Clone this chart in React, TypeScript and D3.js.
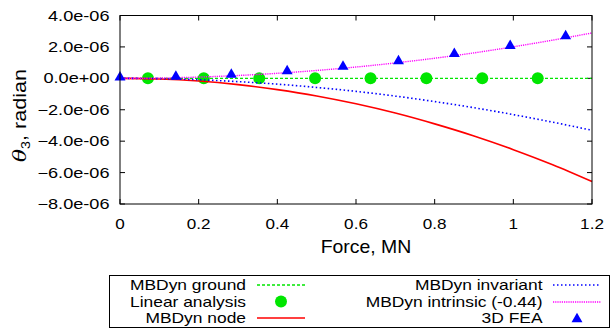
import React from "react";
import { scaleLinear, line, curveMonotoneX, format, symbol, symbolTriangle } from "d3";

// theta values are in units of 1e-6 rad
const forceLine = [0, 0.1, 0.2, 0.3, 0.4, 0.5, 0.6, 0.7, 0.8, 0.9, 1.0, 1.1, 1.2];
const groundTheta = [0, 0, 0, 0, 0, 0, 0, 0, 0, 0, 0, 0, 0];
const nodeTheta = [0, -0.04, -0.17, -0.4, -0.72, -1.12, -1.62, -2.21, -2.9, -3.67, -4.54, -5.5, -6.57];
const invariantTheta = [0, -0.02, -0.09, -0.21, -0.37, -0.58, -0.83, -1.13, -1.48, -1.87, -2.31, -2.79, -3.31];
const intrinsicTheta = [0, 0.02, 0.08, 0.18, 0.32, 0.5, 0.72, 0.98, 1.28, 1.62, 2.01, 2.43, 2.89];

const linearForce = [0.071, 0.213, 0.354, 0.496, 0.637, 0.779, 0.921, 1.062];
const linearTheta = [0, 0, 0, 0, 0, 0, 0, 0];

const feaForce = [0, 0.142, 0.283, 0.425, 0.567, 0.708, 0.85, 0.992, 1.133];
const feaTheta = [0, 0.05, 0.18, 0.4, 0.68, 1.04, 1.49, 2.01, 2.62];

const xTicks = [0, 0.2, 0.4, 0.6, 0.8, 1, 1.2];
const yTicks = [-8, -6, -4, -2, 0, 2, 4];

const W = 612;
const H = 332;
const left = 120;
const right = 592;
const top = 15.5;
const bottom = 204;
const FONT = "'Liberation Sans', Arial, Helvetica, sans-serif";

const GREEN = "#00e600";
const RED = "#ff0000";
const BLUE = "#0000ff";
const MAGENTA = "#ff00ff";

const x = scaleLinear().domain([0, 1.2]).range([left, right]);
const y = scaleLinear().domain([-8, 4]).range([bottom, top]);

const fmtSci = (v: number) =>
  format(".1e")(v * 1e-6).replace(/e([+-])(\d)$/, "e$10$2");

const Txt = ({ x, y, anchor = "start", size = 14.5, sx = 1.22, children }: any) => (
  <text
    transform={`translate(${x},${y}) scale(${sx},1)`}
    textAnchor={anchor}
    fontFamily={FONT}
    fontSize={size}
    fill="#000"
  >
    {children}
  </text>
);

const zip = (xs: number[], ys: number[]) => xs.map((f, i) => [f, ys[i]] as [number, number]);

const path = line<[number, number]>()
  .x((d) => x(d[0]))
  .y((d) => y(d[1]))
  .curve(curveMonotoneX);

const tri = symbol().type(symbolTriangle).size(52)();

export default function App() {
  const legendLeft = [
    { label: "MBDyn ground", kind: "line", color: GREEN, dash: "3,2", w: 1.4 },
    { label: "Linear analysis", kind: "circle", color: GREEN },
    { label: "MBDyn node", kind: "line", color: RED, dash: null, w: 1.6 },
  ];
  const legendRight = [
    { label: "MBDyn invariant", kind: "line", color: BLUE, dash: "1.5,2.5", w: 1.6 },
    { label: "MBDyn intrinsic (-0.44)", kind: "line", color: MAGENTA, dash: "1.2,1", w: 1.4 },
    { label: "3D FEA", kind: "tri", color: BLUE },
  ];
  const rowY = [285, 301.5, 318];

  const sample = (item: any, x0: number, x1: number, cy: number) => {
    if (item.kind === "line")
      return (
        <line x1={x0} x2={x1} y1={Math.round(cy)} y2={Math.round(cy)} stroke={item.color}
          strokeWidth={item.w} strokeDasharray={item.dash || undefined} />
      );
    if (item.kind === "circle")
      return <circle cx={(x0 + x1) / 2} cy={cy} r={6} fill={item.color} />;
    return <path d={tri} transform={`translate(${(x0 + x1) / 2},${cy + 1})`} fill={item.color} />;
  };

  return (
    <svg width={W} height={H} style={{ position: "absolute", left: 0, top: 0, background: "#fff" }}>
      <rect x={0} y={0} width={W} height={H} fill="#fff" />

      {/* ticks */}
      {xTicks.map((t) => (
        <g key={"xt" + t}>
          <line x1={x(t)} x2={x(t)} y1={bottom} y2={bottom - 5} stroke="#000" />
          <line x1={x(t)} x2={x(t)} y1={top} y2={top + 5} stroke="#000" />
          <Txt x={x(t)} y={228.5} anchor="middle" sx={1.14} size={15}>{String(t)}</Txt>
        </g>
      ))}
      {yTicks.map((t) => (
        <g key={"yt" + t}>
          <line x1={left} x2={left + 5} y1={y(t)} y2={y(t)} stroke="#000" />
          <line x1={right} x2={right - 5} y1={y(t)} y2={y(t)} stroke="#000" />
          <Txt x={109.5} y={y(t) + 5} anchor="end" size={14.5} sx={1.25}>{fmtSci(t)}</Txt>
        </g>
      ))}

      {/* series */}
      <path d={path(zip(forceLine, groundTheta)) || ""} fill="none" stroke={GREEN} strokeWidth={1.4} strokeDasharray="3,2" />
      {linearForce.map((f, i) => (
        <circle key={"lin" + i} cx={x(f)} cy={y(linearTheta[i])} r={6} fill={GREEN} />
      ))}
      <path d={path(zip(forceLine, nodeTheta)) || ""} fill="none" stroke={RED} strokeWidth={1.6} />
      <path d={path(zip(forceLine, invariantTheta)) || ""} fill="none" stroke={BLUE} strokeWidth={1.6} strokeDasharray="1.5,2.5" />
      <path d={path(zip(forceLine, intrinsicTheta)) || ""} fill="none" stroke={MAGENTA} strokeWidth={1.4} strokeDasharray="1.2,1" />
      {feaForce.map((f, i) => (
        <path key={"fea" + i} d={tri} transform={`translate(${x(f)},${y(feaTheta[i]) - 1})`} fill={BLUE} />
      ))}

      {/* frame */}
      <rect x={left} y={top} width={right - left} height={bottom - top} fill="none" stroke="#000" strokeWidth={1} />

      {/* axis titles */}
      <Txt x={366} y={253.3} anchor="middle" size={18} sx={1.08}>Force,  MN</Txt>
      <text
        transform={`translate(25.5,115.5) rotate(-90) scale(1.2,1)`}
        textAnchor="middle"
        fontFamily={FONT}
        fontSize={18}
      >
        <tspan fontStyle="italic" fontFamily="'DejaVu Serif', serif">θ</tspan>
        <tspan fontSize={12} dy={4}>3</tspan>
        <tspan dy={-4}>, radian</tspan>
      </text>

      {/* legend */}
      <rect x={109.5} y={275.5} width={500} height={52} fill="none" stroke="#000" strokeWidth={1} />
      {legendLeft.map((it, i) => (
        <g key={"ll" + i}>
          <Txt x={246} y={rowY[i] + 5.2} anchor="end" size={15} sx={1.16}>{it.label}</Txt>
          {sample(it, 257, 305, rowY[i])}
        </g>
      ))}
      {legendRight.map((it, i) => (
        <g key={"lr" + i}>
          <Txt x={542.5} y={rowY[i] + 5.2} anchor="end" size={15} sx={1.16}>{it.label}</Txt>
          {sample(it, 553, 601, rowY[i])}
        </g>
      ))}
    </svg>
  );
}
